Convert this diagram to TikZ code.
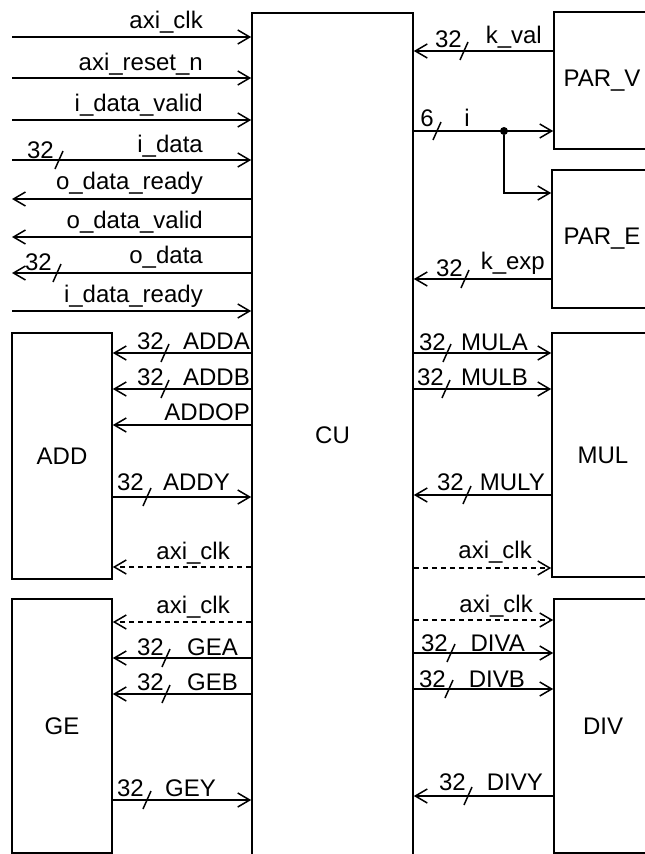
\documentclass[tikz,border=0pt]{standalone}
\usepackage{fontspec}
\setmainfont{Liberation Sans}
\usepackage{tikz}
\usetikzlibrary{arrows.meta}

\begin{document}
\begin{tikzpicture}[
    x=1pt, y=-1pt,
    every node/.style={font=\fontsize{24}{28}\selectfont},
    box/.style={draw, line width=1.6pt, inner sep=0pt, align=center},
    sig/.style={line width=1.5pt, -{Straight Barb[length=12pt, width=14pt, line width=1.5pt]}},
    clk/.style={sig, dash pattern=on 5pt off 4pt},
    bar/.style={line width=1.5pt},
    lbl/.style={inner sep=0pt, anchor=base east},
    dot/.style={circle, fill, inner sep=0pt, minimum size=8pt}
]
    \useasboundingbox (0,0) rectangle (645,854);
    \clip (0,0) rectangle (645,854);

    % Blocks
    \node[box, minimum width=161pt, minimum height=845pt] (cu) at (332.5,435.5) {CU};
    \node[box, minimum width=96pt, minimum height=137pt] (parv) at (602,80.5) {PAR\_V};
    \node[box, minimum width=100pt, minimum height=138pt] (pare) at (602,239) {PAR\_E};
    \node[box, minimum width=102pt, minimum height=244pt] (mul) at (603,455) {MUL};
    \node[box, minimum width=98pt, minimum height=254pt] (div) at (603,726) {DIV};
    \node[box, minimum width=100pt, minimum height=246pt] (add) at (62,456) {ADD};
    \node[box, minimum width=100pt, minimum height=254pt] (ge) at (62,726) {GE};
    \coordinate (port) at (12,0);

    % AXI interface
    \draw[sig] (port |- 0,37) -- (cu.west |- 0,37);
    \node[lbl] (t-clk) at (203,28) {axi\_clk};
    \draw[sig] (port |- 0,78) -- (cu.west |- 0,78);
    \node[lbl] (t-rst) at (203,70) {axi\_reset\_n};
    \draw[sig] (port |- 0,120) -- (cu.west |- 0,120);
    \node[lbl] (t-ivalid) at (203,111) {i\_data\_valid};
    \draw[sig] (port |- 0,160) -- (cu.west |- 0,160);
    \draw[bar] (59,160) ++(-4,9) -- ++(8,-18);
    \node[lbl] (w-idata) at (54,158) {32};
    \node[lbl] (t-idata) at (203,152) {i\_data};
    \draw[sig] (cu.west |- 0,199) -- (port |- 0,199);
    \node[lbl] (t-oready) at (203,189) {o\_data\_ready};
    \draw[sig] (cu.west |- 0,237) -- (port |- 0,237);
    \node[lbl] (t-ovalid) at (203,228) {o\_data\_valid};
    \draw[sig] (cu.west |- 0,273) -- (port |- 0,273);
    \draw[bar] (57,273) ++(-4,9) -- ++(8,-18);
    \node[lbl] (w-odata) at (52,270) {32};
    \node[lbl] (t-odata) at (203,263) {o\_data};
    \draw[sig] (port |- 0,311) -- (cu.west |- 0,311);
    \node[lbl] (t-iready) at (203,302) {i\_data\_ready};

    % PAR_V / PAR_E
    \draw[sig] (parv.west |- 0,51) -- (cu.east |- 0,51);
    \draw[bar] (464,51) ++(-4,9) -- ++(8,-18);
    \node[lbl] (w-kval) at (462,47) {32};
    \node[lbl] (t-kval) at (542,43) {k\_val};
    \node[dot] (split) at (504,131) {};
    \draw[sig] (cu.east |- split) -- (parv.west |- split);
    \draw[bar] (437,131) ++(-4,9) -- ++(8,-18);
    \node[lbl] (w-i) at (434,126) {6};
    \node[lbl] (t-i) at (470,126) {i};
    \draw[sig] (split) |- (pare.west |- 0,193);
    \draw[sig] (pare.west |- 0,279) -- (cu.east |- 0,279);
    \draw[bar] (465,279) ++(-4,9) -- ++(8,-18);
    \node[lbl] (w-kexp) at (463,276) {32};
    \node[lbl] (t-kexp) at (545,269) {k\_exp};

    % MUL
    \draw[sig] (cu.east |- 0,353) -- (mul.west |- 0,353);
    \draw[bar] (447,353) ++(-4,9) -- ++(8,-18);
    \node[lbl] (w-mula) at (446,350) {32};
    \node[lbl] (t-mula) at (528,350) {MULA};
    \draw[sig] (cu.east |- 0,389) -- (mul.west |- 0,389);
    \draw[bar] (446,389) ++(-4,9) -- ++(8,-18);
    \node[lbl] (w-mulb) at (444,385) {32};
    \node[lbl] (t-mulb) at (528,385) {MULB};
    \draw[sig] (mul.west |- 0,495) -- (cu.east |- 0,495);
    \draw[bar] (467,495) ++(-4,9) -- ++(8,-18);
    \node[lbl] (w-muly) at (464,490) {32};
    \node[lbl] (t-muly) at (545,490) {MULY};
    \draw[clk] (cu.east |- 0,568) -- (mul.west |- 0,568);
    \node[lbl] (t-mulclk) at (532,558) {axi\_clk};

    % DIV
    \draw[clk] (cu.east |- 0,620) -- (div.west |- 0,620);
    \node[lbl] (t-divclk) at (533,612) {axi\_clk};
    \draw[sig] (cu.east |- 0,653) -- (div.west |- 0,653);
    \draw[bar] (451,653) ++(-4,9) -- ++(8,-18);
    \node[lbl] (w-diva) at (448,651) {32};
    \node[lbl] (t-diva) at (525,651) {DIVA};
    \draw[sig] (cu.east |- 0,689) -- (div.west |- 0,689);
    \draw[bar] (449,689) ++(-4,9) -- ++(8,-18);
    \node[lbl] (w-divb) at (446,687) {32};
    \node[lbl] (t-divb) at (525,687) {DIVB};
    \draw[sig] (div.west |- 0,796) -- (cu.east |- 0,796);
    \draw[bar] (468,796) ++(-4,9) -- ++(8,-18);
    \node[lbl] (w-divy) at (466,790) {32};
    \node[lbl] (t-divy) at (543,790) {DIVY};

    % ADD
    \draw[sig] (cu.west |- 0,353) -- (add.east |- 0,353);
    \draw[bar] (165,353) ++(-4,9) -- ++(8,-18);
    \node[lbl] (w-adda) at (164,349) {32};
    \node[lbl] (t-adda) at (250,349) {ADDA};
    \draw[sig] (cu.west |- 0,389) -- (add.east |- 0,389);
    \draw[bar] (165,389) ++(-4,9) -- ++(8,-18);
    \node[lbl] (w-addb) at (164,385) {32};
    \node[lbl] (t-addb) at (250,385) {ADDB};
    \draw[sig] (cu.west |- 0,425) -- (add.east |- 0,425);
    \node[lbl] (t-addop) at (250,420) {ADDOP};
    \draw[sig] (add.east |- 0,497) -- (cu.west |- 0,497);
    \draw[bar] (147,497) ++(-4,9) -- ++(8,-18);
    \node[lbl] (w-addy) at (144,490) {32};
    \node[lbl] (t-addy) at (230,490) {ADDY};
    \draw[clk] (cu.west |- 0,567) -- (add.east |- 0,567);
    \node[lbl] (t-addclk) at (230,559) {axi\_clk};

    % GE
    \draw[clk] (cu.west |- 0,622) -- (ge.east |- 0,622);
    \node[lbl] (t-geclk) at (230,613) {axi\_clk};
    \draw[sig] (cu.west |- 0,658) -- (ge.east |- 0,658);
    \draw[bar] (166,658) ++(-4,9) -- ++(8,-18);
    \node[lbl] (w-gea) at (164,655) {32};
    \node[lbl] (t-gea) at (238,655) {GEA};
    \draw[sig] (cu.west |- 0,694) -- (ge.east |- 0,694);
    \draw[bar] (166,694) ++(-4,9) -- ++(8,-18);
    \node[lbl] (w-geb) at (164,690) {32};
    \node[lbl] (t-geb) at (238,690) {GEB};
    \draw[sig] (ge.east |- 0,800) -- (cu.west |- 0,800);
    \draw[bar] (147,800) ++(-4,9) -- ++(8,-18);
    \node[lbl] (w-gey) at (144,796) {32};
    \node[lbl] (t-gey) at (216,796) {GEY};
\end{tikzpicture}
\end{document}
